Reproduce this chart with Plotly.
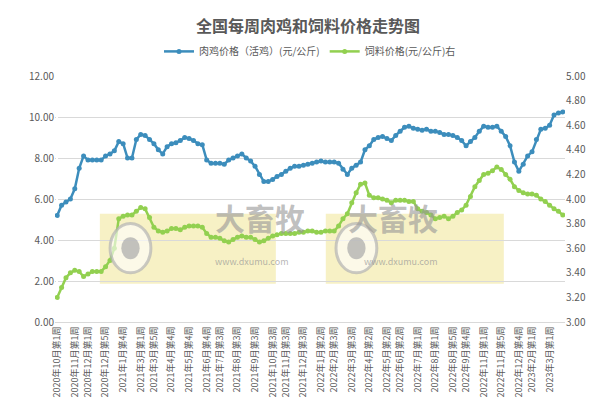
import plotly.graph_objects as go

tick_labels = ["2020年10月第1周","2020年11月第1周","2020年12月第1周","2020年12月第5周","2021年1月第4周",
"2021年3月第1周","2021年3月第5周","2021年4月第4周","2021年5月第4周","2021年6月第4周","2021年7月第3周",
"2021年8月第3周","2021年9月第3周","2021年10月第3周","2021年11月第3周","2021年12月第3周","2022年1月第2周",
"2022年2月第3周","2022年3月第3周","2022年4月第2周","2022年5月第2周","2022年6月第2周",
"2022年7月第1周","2022年8月第1周","2022年8月第5周","2022年9月第4周","2022年11月第1周","2022年11月第5周",
"2022年12月第4周","2023年2月第1周","2023年3月第1周"]

chicken = [5.2,5.7,5.85,6.0,6.5,7.5,8.1,7.9,7.9,7.9,7.9,8.1,8.2,8.35,8.8,8.7,8.0,8.0,8.9,9.15,
9.1,8.9,8.7,8.4,8.2,8.55,8.7,8.75,8.85,9.0,8.95,8.85,8.7,8.65,7.9,7.75,7.75,7.75,7.7,7.9,
8.0,8.1,8.2,8.0,7.85,7.6,7.2,6.85,6.85,6.95,7.1,7.2,7.35,7.5,7.6,7.6,7.65,7.7,7.75,7.8,
7.85,7.8,7.8,7.8,7.75,7.45,7.2,7.5,7.65,7.8,8.4,8.6,8.9,9.0,9.05,8.95,8.85,9.1,9.3,9.5,
9.55,9.45,9.4,9.35,9.4,9.3,9.3,9.25,9.15,9.15,9.1,9.0,8.85,8.6,8.8,9.0,9.3,9.55,9.5,9.5,
9.55,9.3,9.05,8.6,7.8,7.35,7.7,8.1,8.3,8.9,9.4,9.45,9.6,10.1,10.2,10.25]
feed = [3.2,3.28,3.36,3.4,3.42,3.41,3.37,3.39,3.41,3.41,3.41,3.45,3.5,3.6,3.84,3.86,3.87,3.87,3.9,3.93,
3.92,3.85,3.77,3.74,3.73,3.74,3.76,3.76,3.75,3.77,3.78,3.78,3.78,3.77,3.72,3.69,3.69,3.68,3.66,3.65,
3.67,3.69,3.7,3.69,3.69,3.67,3.65,3.66,3.68,3.7,3.71,3.72,3.72,3.72,3.72,3.73,3.73,3.74,3.74,3.73,
3.73,3.74,3.74,3.74,3.78,3.84,3.88,3.97,4.05,4.12,4.13,4.03,4.01,4.01,4.0,3.99,3.97,3.99,3.99,3.99,
3.98,3.98,3.92,3.9,3.89,3.87,3.84,3.85,3.86,3.84,3.86,3.89,3.91,3.95,4.02,4.1,4.15,4.2,4.21,4.23,
4.26,4.24,4.2,4.16,4.1,4.07,4.05,4.04,4.04,4.03,4.0,3.98,3.95,3.92,3.9,3.87]

n = len(chicken)
x = list(range(n))
step = (n - 4) / (len(tick_labels) - 1)
tickvals = [round(i * step) for i in range(len(tick_labels))]

fig = go.Figure()
fig.add_trace(go.Scatter(x=x, y=chicken, name="肉鸡价格（活鸡）(元/公斤)", mode="lines+markers",
    line=dict(color="#3c8dbc", width=2.5), marker=dict(size=5, color="#3c8dbc")))
fig.add_trace(go.Scatter(x=x, y=feed, name="饲料价格(元/公斤)右", mode="lines+markers", yaxis="y2",
    line=dict(color="#92d050", width=2.5), marker=dict(size=5, color="#92d050")))

for x0, x1 in [(0.088, 0.433), (0.531, 0.88)]:
    fig.add_shape(type="rect", xref="paper", yref="paper", x0=x0, x1=x1, y0=0.155, y1=0.44,
                  fillcolor="rgba(240,228,140,0.5)", line_width=0, layer="below")
    cx = x0 + 0.06
    fig.add_shape(type="circle", xref="paper", yref="paper", x0=cx - 0.04, x1=cx + 0.04, y0=0.2, y1=0.4,
                  line=dict(color="rgba(180,180,180,0.7)", width=3), fillcolor="rgba(255,255,255,0.6)")
    fig.add_shape(type="circle", xref="paper", yref="paper", x0=cx - 0.018, x1=cx + 0.018, y0=0.255, y1=0.345,
                  line_width=0, fillcolor="rgba(170,170,170,0.7)")
    fig.add_annotation(xref="paper", yref="paper", x=(x0 + x1) / 2 + 0.05, y=0.33, text="<b>大畜牧</b>",
                       showarrow=False, font=dict(size=30, color="rgba(150,150,150,0.6)", family="Noto Sans CJK SC"))
    fig.add_annotation(xref="paper", yref="paper", x=(x0 + x1) / 2 + 0.05, y=0.21, text="www.dxumu.com",
                       showarrow=False, font=dict(size=9, color="rgba(150,150,150,0.7)"))

fig.update_layout(
    width=600, height=414, plot_bgcolor="white", paper_bgcolor="white",
    margin=dict(l=47, r=43, t=68, b=100),
    font=dict(family="Noto Sans CJK SC", size=10, color="#595959"),
    title=dict(text="<b>全国每周肉鸡和饲料价格走势图</b>", x=0.5, y=0.955, xanchor="center", yanchor="middle",
               font=dict(size=16, color="#595959")),
    legend=dict(orientation="h", x=0.5, xanchor="center", y=1.1, yanchor="middle", font=dict(size=10)),
    xaxis=dict(tickmode="array", tickvals=tickvals, ticktext=tick_labels, tickangle=-90,
               range=[-0.5, n - 0.5], showgrid=False, showline=True, linecolor="#d9d9d9",
               tickfont=dict(size=9)),
    yaxis=dict(range=[0, 12], dtick=2, tickformat=".2f", gridcolor="#d9d9d9", zeroline=False),
    yaxis2=dict(range=[3, 5], dtick=0.2, tickformat=".2f", overlaying="y", side="right",
                showgrid=False, zeroline=False),
    showlegend=True,
)
fig.write_html("out.html")
